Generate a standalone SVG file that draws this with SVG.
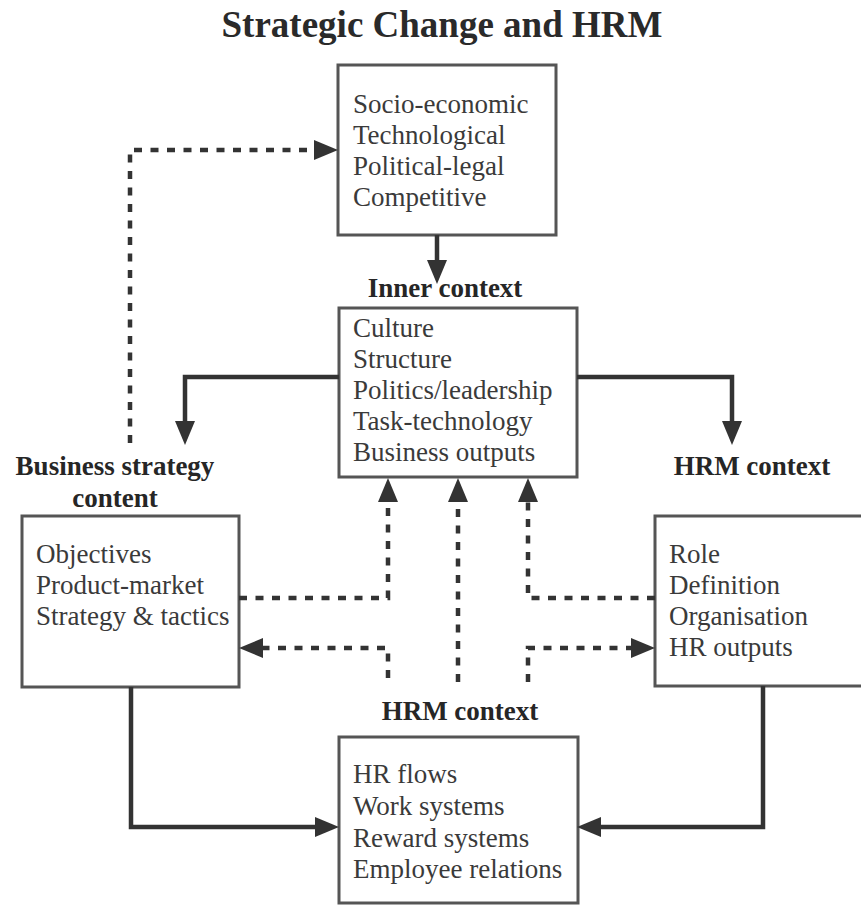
<svg xmlns="http://www.w3.org/2000/svg" width="861" height="905" viewBox="0 0 861 905">
<style>
.box{fill:#fff;stroke:#555;stroke-width:3}
.t{font-family:"Liberation Serif","Times New Roman",serif;font-size:27px;fill:#3a3a3a}
.b{font-family:"Liberation Serif","Times New Roman",serif;font-size:27px;font-weight:bold;fill:#262626}
.title{font-family:"Liberation Serif","Times New Roman",serif;font-size:37px;font-weight:bold;fill:#2a2a2a}
.solid{fill:none;stroke:#333;stroke-width:4.5}
.dash{fill:none;stroke:#333;stroke-width:4.5;stroke-dasharray:8 8.5}
</style>
<defs>
<marker id="ah" viewBox="0 0 24 20" markerWidth="24" markerHeight="20" refX="0" refY="10" orient="auto" markerUnits="userSpaceOnUse">
<path d="M0,0 L24,10 L0,20 z" fill="#333"/>
</marker>
</defs>
<rect width="861" height="905" fill="#fff"/>
<text class="title" x="442" y="37" text-anchor="middle">Strategic Change and HRM</text>

<g id="outer-context">
<rect class="box" x="338" y="65" width="218" height="170"/>
<text class="t" x="353" y="113">Socio-economic</text>
<text class="t" x="353" y="144">Technological</text>
<text class="t" x="353" y="175">Political-legal</text>
<text class="t" x="353" y="206">Competitive</text>
</g>

<g id="inner-context">
<text class="b" x="445" y="297" text-anchor="middle">Inner context</text>
<rect class="box" x="339" y="308" width="238" height="169"/>
<text class="t" x="353" y="337">Culture</text>
<text class="t" x="353" y="368">Structure</text>
<text class="t" x="353" y="399">Politics/leadership</text>
<text class="t" x="353" y="430">Task-technology</text>
<text class="t" x="353" y="461">Business outputs</text>
</g>

<g id="business-strategy">
<text class="b" x="115" y="475" text-anchor="middle">Business strategy</text>
<text class="b" x="115" y="507" text-anchor="middle">content</text>
<rect class="box" x="22" y="516" width="217" height="171"/>
<text class="t" x="36" y="563">Objectives</text>
<text class="t" x="36" y="594">Product-market</text>
<text class="t" x="36" y="625">Strategy &amp; tactics</text>
</g>

<g id="hrm-context-right">
<text class="b" x="752" y="475" text-anchor="middle">HRM context</text>
<rect class="box" x="655" y="516" width="220" height="170"/>
<text class="t" x="669" y="563">Role</text>
<text class="t" x="669" y="594">Definition</text>
<text class="t" x="669" y="625">Organisation</text>
<text class="t" x="669" y="656">HR outputs</text>
</g>

<g id="hrm-context-bottom">
<text class="b" x="460" y="720" text-anchor="middle">HRM context</text>
<rect class="box" x="339" y="737" width="239" height="166"/>
<text class="t" x="353" y="783">HR flows</text>
<text class="t" x="353" y="815">Work systems</text>
<text class="t" x="353" y="847">Reward systems</text>
<text class="t" x="353" y="878">Employee relations</text>
</g>

<g id="connectors">
<path class="solid" d="M437,235 V260" marker-end="url(#ah)"/>
<path class="solid" d="M339,377 H185 V421" marker-end="url(#ah)"/>
<path class="solid" d="M577,377 H732 V421" marker-end="url(#ah)"/>
<path class="solid" d="M131,687 V827 H315" marker-end="url(#ah)"/>
<path class="solid" d="M763,686 V827 H601" marker-end="url(#ah)"/>
<path class="dash" d="M130,443 V150 H314" marker-end="url(#ah)"/>
<path class="dash" d="M239,598 H388 V502" marker-end="url(#ah)"/>
<path class="dash" d="M388,678 V648 H263" marker-end="url(#ah)"/>
<path class="dash" d="M458,682 V502" marker-end="url(#ah)"/>
<path class="dash" d="M655,598 H528 V502" marker-end="url(#ah)"/>
<path class="dash" d="M528,682 V648 H631" marker-end="url(#ah)"/>
</g>
</svg>
